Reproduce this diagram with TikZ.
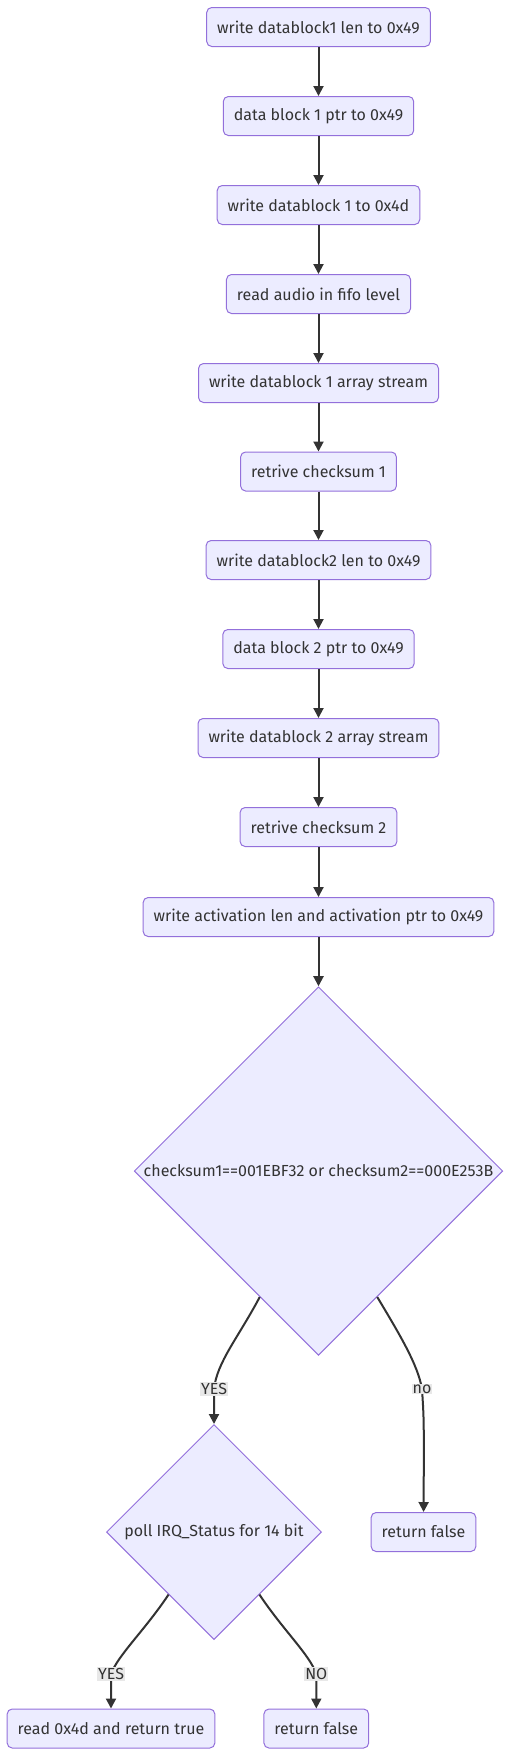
\documentclass[tikz,border=0pt]{standalone}
\usepackage{fontspec}
\setmainfont{Fira Sans}
\usetikzlibrary{shapes.geometric,arrows.meta}
\definecolor{nodefill}{HTML}{ECECFF}
\definecolor{nodeline}{HTML}{9370DB}
\definecolor{edgecol}{HTML}{333333}
\definecolor{lblfill}{HTML}{E8E8E8}
\begin{document}
\begin{tikzpicture}[x=1pt, y=-1pt, font=\fontsize{16}{19}\selectfont,
    flow/.style={draw=edgecol, line width=2pt, -{Triangle[length=10pt,width=10pt]}},
    lbl/.style={fill=lblfill, text=edgecol, inner sep=1pt}]
    \useasboundingbox (0,0) rectangle (511,1756);

    \begin{scope}[every node/.style={rectangle, rounded corners=5pt, draw=nodeline, fill=nodefill, line width=1pt, text=edgecol, minimum height=39pt, inner xsep=10.5pt}]
        \node (1) at (318.5,27) {write datablock1 len to 0x49};
        \node (2) at (318.5,116) {data block 1 ptr to 0x49};
        \node (3) at (318.5,205) {write datablock 1 to 0x4d};
        \node (4) at (318.5,294) {read audio in fifo level};
        \node (5) at (318.5,383) {write datablock 1 array stream};
        \node (6) at (318.5,471.5) {retrive checksum 1};
        \node (7) at (318.5,560) {write datablock2 len to 0x49};
        \node (8) at (318.5,649) {data block 2 ptr to 0x49};
        \node (9) at (318.5,738) {write datablock 2 array stream};
        \node (10) at (318.5,827) {retrive checksum 2};
        \node (11) at (318.5,917) {write activation len and activation ptr to 0x49};
        \node (14) at (423.5,1532) {return false};
        \node (15) at (111,1728.5) {read 0x4d and return true};
        \node (16) at (316.3,1728.5) {return false};
    \end{scope}

    \begin{scope}[every node/.style={diamond, draw=nodeline, fill=nodefill, line width=1pt, text=edgecol, inner sep=0pt}]
        \node[minimum width=368.5pt, minimum height=368.5pt] (12) at (318.5,1171) {checksum1==001EBF32 or checksum2==000E253B};
        \node[minimum width=215pt, minimum height=215pt] (13) at (214,1532) {poll IRQ\_Status for 14 bit};
    \end{scope}

    \begin{scope}[every edge/.style={flow}]
        \path (1) edge (2);
        \path (2) edge (3);
        \path (3) edge (4);
        \path (4) edge (5);
        \path (5) edge (6);
        \path (6) edge (7);
        \path (7) edge (8);
        \path (8) edge (9);
        \path (9) edge (10);
        \path (10) edge (11);
        \path (11) edge (12);
    \end{scope}

    \draw[flow] (12.245) .. controls (238,1338) and (217,1362) .. (214,1389) node[lbl] (y1) {YES} -- (13);
    \draw[flow] (12.295) .. controls (400,1335) and (418,1365) .. (422,1389) node[lbl] (n1) {no} .. controls (424,1420) .. (14);
    \draw[flow] (13.234) .. controls (145,1630) and (118,1655) .. (111,1674) node[lbl] (y2) {YES} -- (15);
    \draw[flow] (13.306) .. controls (283,1630) and (310,1655) .. (316.3,1674) node[lbl] (n2) {NO} -- (16);
\end{tikzpicture}
\end{document}
